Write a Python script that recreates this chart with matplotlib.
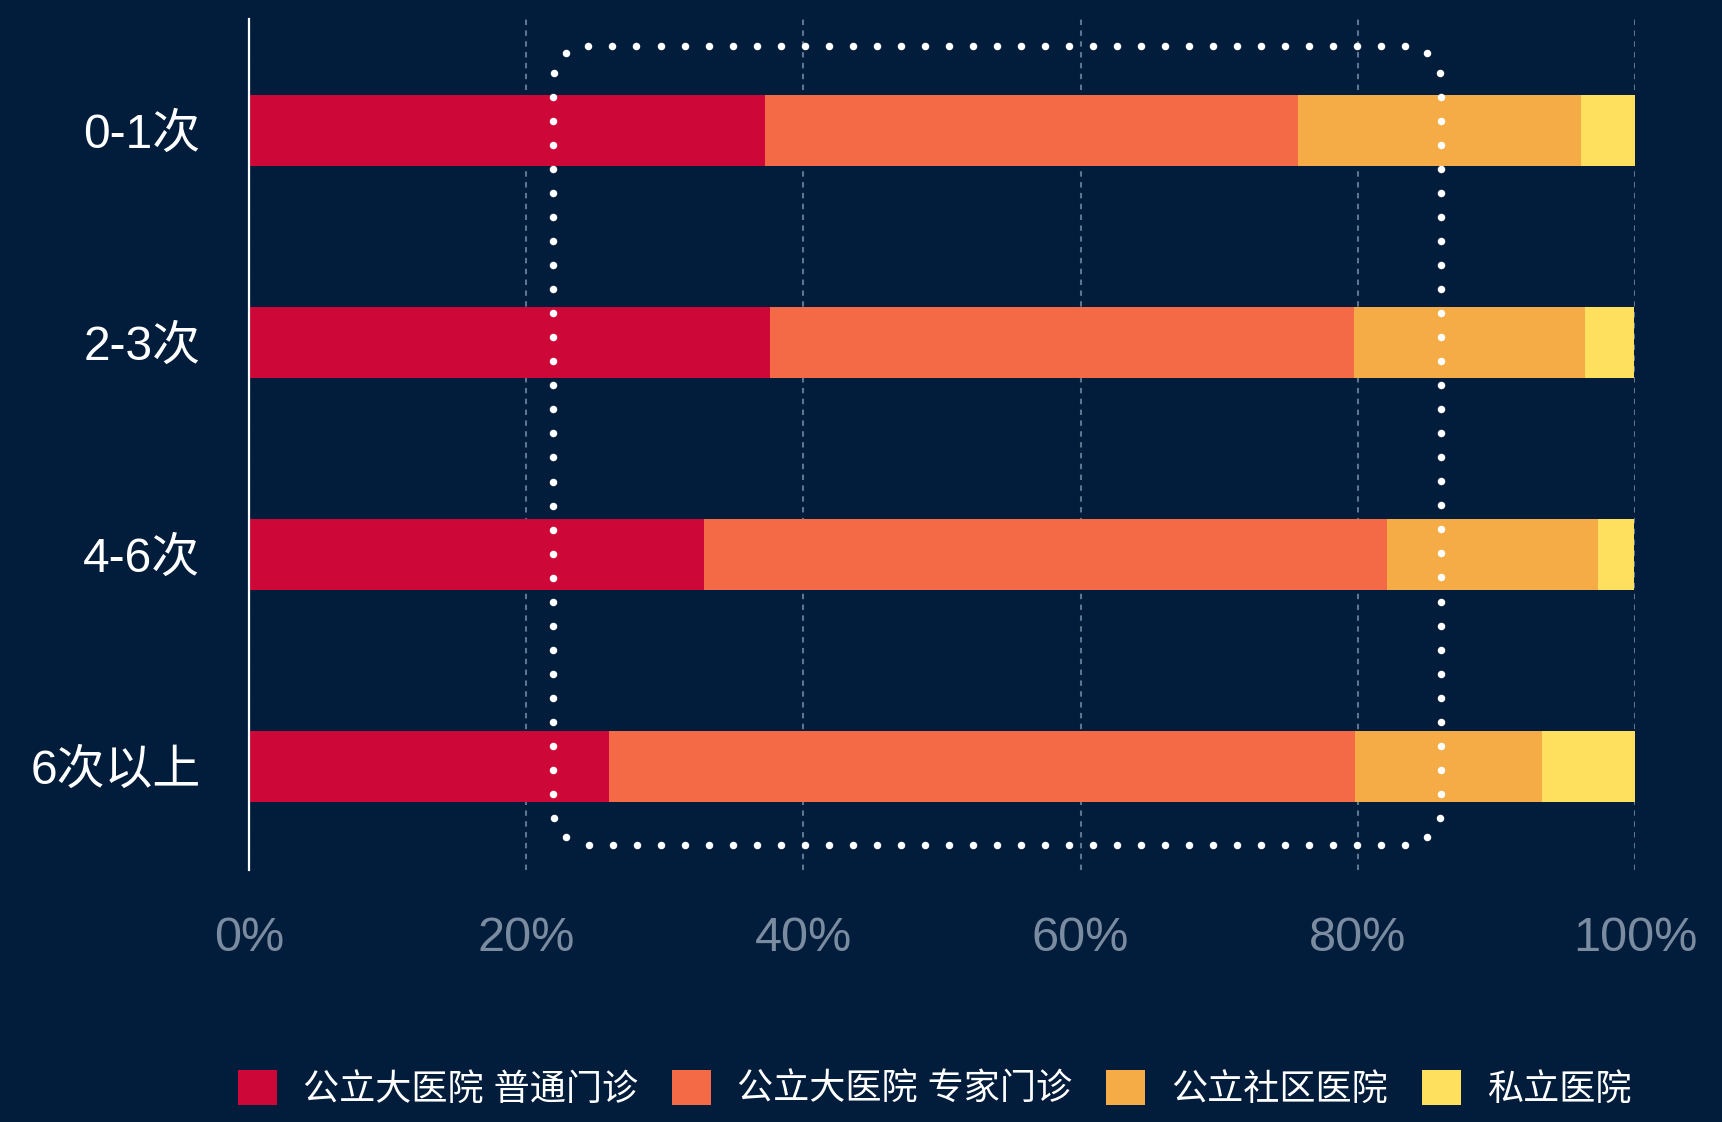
import math
import numpy as np
import matplotlib
matplotlib.use("Agg")
import matplotlib.pyplot as plt
from matplotlib.patches import Patch
from matplotlib.lines import Line2D
from matplotlib.transforms import IdentityTransform

# ---- data ----
categories = ["0-1次", "2-3次", "4-6次", "6次以上"]
series_names = ["公立大医院 普通门诊", "公立大医院 专家门诊", "公立社区医院", "私立医院"]
public_general = [37.2, 37.6, 32.8, 26.0]
public_expert = [38.5, 42.1, 49.3, 53.8]
community = [20.4, 16.7, 15.2, 13.5]
private = [3.9, 3.5, 2.6, 6.7]
x_ticks = [0, 20, 40, 60, 80, 100]
x_tick_labels = ["0%", "20%", "40%", "60%", "80%", "100%"]
# highlighted range (annotation box)
highlight_x = (21.9, 86.0)

colors = ["#cd0737", "#f46a46", "#f5ac47", "#ffe05e"]
bg = "#011d3b"
grid_c = "#5d7590"
tick_c = "#7b8ba0"

plt.rcParams['font.family'] = ['Noto Sans CJK SC', 'DejaVu Sans']
lat_fam = ['Liberation Sans', 'Noto Sans CJK SC', 'DejaVu Sans']

W, H = 1722, 1122
fig = plt.figure(figsize=(W / 100, H / 100), dpi=100, facecolor=bg)
ax = fig.add_axes([249 / W, 1 - 870 / H, (1635 - 249) / W, (870 - 19) / H])
ax.set_facecolor(bg)

series = [public_general, public_expert, community, private]
ypos = list(range(len(categories)))
left = [0.0] * len(categories)
for vals, col, name in zip(series, colors, series_names):
    ax.barh(ypos, vals, left=left, height=0.335, color=col, label=name, zorder=3, linewidth=0)
    left = [l + v for l, v in zip(left, vals)]

ax.set_xlim(0, 100)
ax.set_ylim(3.49, -0.524)
ax.set_xticks(x_ticks)
ax.set_xticklabels(x_tick_labels, fontsize=35, color=tick_c, family=lat_fam)
ax.set_yticks(ypos)
ax.set_yticklabels(categories, fontsize=34.5, color="white", family=lat_fam)
ax.tick_params(axis='x', length=0, pad=33)
ax.tick_params(axis='y', length=0, pad=35)

for s in ["top", "right", "bottom"]:
    ax.spines[s].set_visible(False)
ax.spines["left"].set_color("white")
ax.spines["left"].set_linewidth(1.6)
ax.spines["left"].set_zorder(5)

ax.xaxis.grid(True, color=grid_c, linestyle=(0, (2.6, 2.6)), linewidth=1.5, zorder=1)
ax.set_axisbelow(True)

# dotted rounded highlight box: evenly spaced dots in pixel space
fig.canvas.draw()
x0, y0 = ax.transData.transform((highlight_x[0], 3.373))
x1, y1 = ax.transData.transform((highlight_x[1], -0.398))
r = 36.0

def outline(t):
    """Point on rounded rectangle at arc length t (pixel space)."""
    w = (x1 - x0) - 2 * r
    h = (y1 - y0) - 2 * r
    q = math.pi * r / 2
    segs = [
        ("line", (x0 + r, y0), (1, 0), w),
        ("arc", (x1 - r, y0 + r), -math.pi / 2, q),
        ("line", (x1, y0 + r), (0, 1), h),
        ("arc", (x1 - r, y1 - r), 0.0, q),
        ("line", (x1 - r, y1), (-1, 0), w),
        ("arc", (x0 + r, y1 - r), math.pi / 2, q),
        ("line", (x0, y1 - r), (0, -1), h),
        ("arc", (x0 + r, y0 + r), math.pi, q),
    ]
    for kind, a, b, L in segs:
        if t <= L:
            if kind == "line":
                return a[0] + b[0] * t, a[1] + b[1] * t
            ang = b + t / r
            return a[0] + r * math.cos(ang), a[1] + r * math.sin(ang)
        t -= L
    return x0 + r, y0

perim = 2 * ((x1 - x0) - 2 * r) + 2 * ((y1 - y0) - 2 * r) + 2 * math.pi * r
n = int(round(perim / 24.0))
pts = np.array([outline(i * perim / n) for i in range(n)])
dots = Line2D(pts[:, 0], pts[:, 1], linestyle='none', marker='o', markersize=5.4,
              markerfacecolor='white', markeredgewidth=0, transform=IdentityTransform(),
              zorder=10)
fig.add_artist(dots)

handles = [Patch(facecolor=c, edgecolor='none') for c in colors]
fig.legend(handles, series_names, loc='center', ncol=4,
           bbox_to_anchor=(935 / W, 1 - 1089 / H), frameon=False,
           prop={'family': lat_fam, 'size': 26},
           labelcolor="white", handlelength=1.08, handleheight=1.1,
           handletextpad=0.72, columnspacing=0.94)

fig.savefig("out.png", dpi=100, facecolor=bg)
